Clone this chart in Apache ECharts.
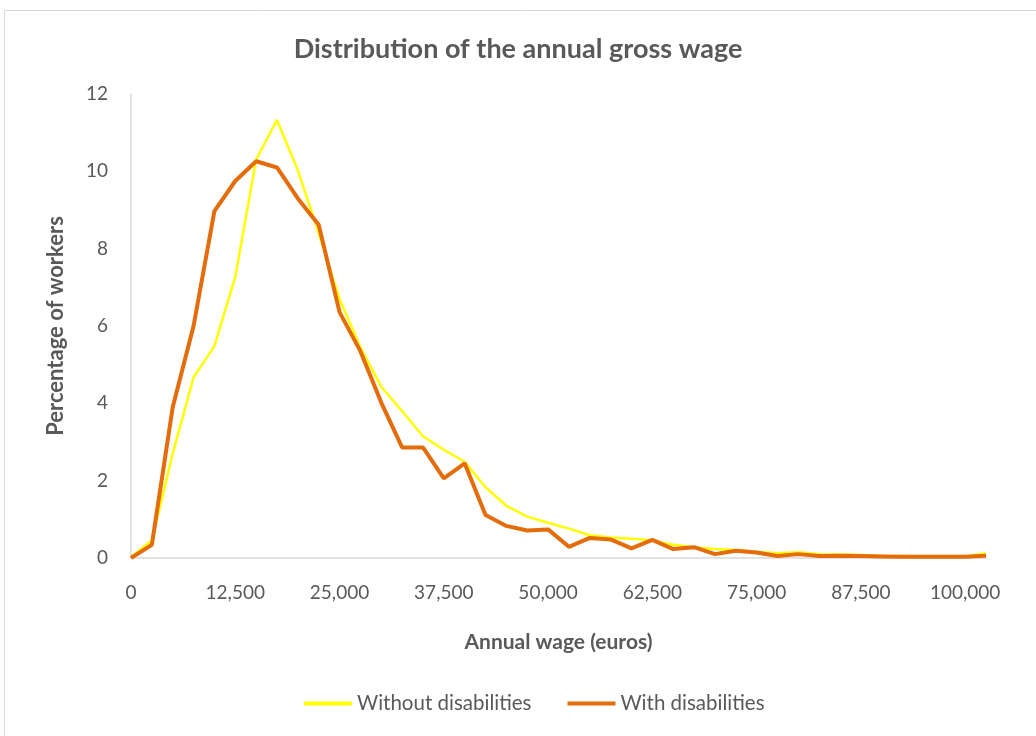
<!DOCTYPE html>
<html>
<head>
<meta charset="utf-8">
<script src="https://cdn.jsdelivr.net/npm/echarts@6/dist/echarts.min.js"></script>
<style>
html,body{margin:0;padding:0;background:#fff;}
#chart{width:1036px;height:736px;}
</style>
</head>
<body>
<div id="chart"></div>
<script>
const wages = [0,2500,5000,7500,10000,12500,15000,17500,20000,22500,25000,27500,30000,32500,35000,37500,40000,42500,45000,47500,50000,52500,55000,57500,60000,62500,65000,67500,70000,72500,75000,77500,80000,82500,85000,87500,90000,92500,95000,97500,100000,102500];
const withoutDisabilities = [0.02,0.45,2.7,4.67,5.48,7.27,10.3,11.33,10.03,8.4,6.7,5.45,4.43,3.8,3.15,2.8,2.49,1.83,1.35,1.07,0.91,0.76,0.59,0.53,0.5,0.46,0.34,0.28,0.23,0.21,0.16,0.12,0.15,0.1,0.09,0.08,0.06,0.05,0.04,0.04,0.04,0.12];
const withDisabilities = [0,0.34,3.9,6.0,8.97,9.75,10.26,10.1,9.3,8.62,6.36,5.35,4.02,2.86,2.86,2.06,2.45,1.11,0.83,0.71,0.74,0.29,0.52,0.48,0.25,0.47,0.23,0.28,0.1,0.19,0.14,0.05,0.1,0.05,0.06,0.05,0.04,0.03,0.03,0.03,0.03,0.06];
const seriesNames = ['Without disabilities','With disabilities'];

const chart = echarts.init(document.getElementById('chart'));
const txt = '#595959';
const font = 'Lato';
chart.setOption({
  backgroundColor:'#fff',
  animation:false,
  graphic:[{type:'rect',shape:{x:4.5,y:10.5,width:1060,height:760},style:{fill:'none',stroke:'#d9d9d9',lineWidth:1},silent:true,z:-1}],
  title:{text:'Distribution of the annual gross wage',left:'center',top:31,
    textStyle:{color:txt,fontFamily:font,fontWeight:'bold',fontSize:27}},
  grid:{left:131,right:50,top:94,bottom:178,containLabel:false},
  legend:{bottom:17,left:299,itemWidth:48,itemHeight:4,itemGap:36,
    icon:'rect',
    textStyle:{color:txt,fontFamily:font,fontSize:20.5},
    data:seriesNames},
  xAxis:{type:'category',data:wages,boundaryGap:false,
    name:'Annual wage (euros)',nameLocation:'middle',nameGap:74,
    nameTextStyle:{color:txt,fontFamily:font,fontWeight:'bold',fontSize:21},
    axisLine:{lineStyle:{color:'#d9d9d9',width:1.5}},
    axisTick:{show:false},
    axisLabel:{interval:4,color:txt,fontFamily:font,fontSize:19,margin:25,
      formatter:v=>Number(v).toLocaleString('en-US')},
    splitLine:{show:false}},
  yAxis:{type:'value',min:0,max:12,interval:2,
    name:'Percentage of workers',nameLocation:'middle',nameGap:64,
    nameTextStyle:{color:txt,fontFamily:font,fontWeight:'bold',fontSize:22},
    axisLine:{show:true,lineStyle:{color:'#d9d9d9',width:1.5}},
    axisTick:{show:false},
    axisLabel:{color:txt,fontFamily:font,fontSize:19,margin:23},
    splitLine:{show:false}},
  series:[
    {name:seriesNames[0],type:'line',data:withoutDisabilities,showSymbol:false,symbol:'none',
      itemStyle:{color:'#FFFF00'},lineStyle:{color:'#FFFF00',width:2.5},z:2},
    {name:seriesNames[1],type:'line',data:withDisabilities,showSymbol:false,symbol:'none',
      itemStyle:{color:'#E46C0A'},lineStyle:{color:'#E46C0A',width:4},z:3}
  ]
});
</script>
</body>
</html>
